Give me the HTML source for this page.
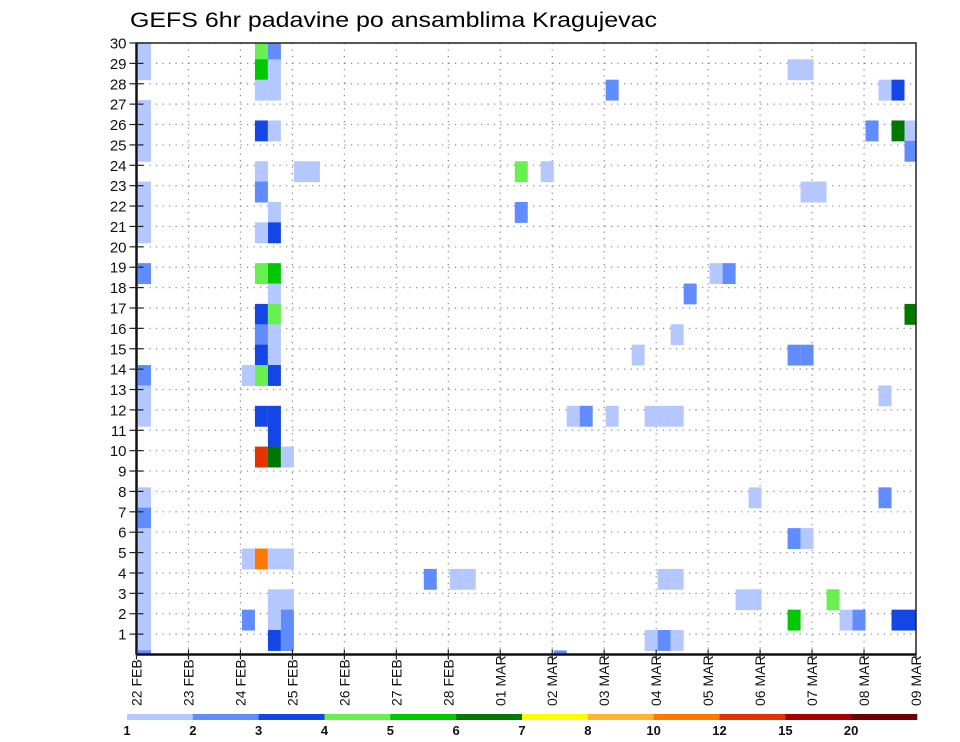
<!DOCTYPE html>
<html><head><meta charset="utf-8"><style>
html,body{margin:0;padding:0;background:#fff;}
svg{display:block;font-family:"Liberation Sans",sans-serif;}
</style></head><body>
<svg id="chart" width="960" height="742" viewBox="0 0 960 742" xmlns="http://www.w3.org/2000/svg">
<text x="130" y="27" font-size="21" fill="#000" textLength="527" lengthAdjust="spacingAndGlyphs">GEFS 6hr padavine po ansamblima Kragujevac</text>
<g id="grid"></g>
<g id="cells"></g>
<g id="axes"></g>
<g id="legend"></g>
</svg>
<script>
// data
const dayLabels = ["22","23","24","25","26","27","28","01","02","03","04","05","06","07","08","09"];
const monthLabels = ["FEB","FEB","FEB","FEB","FEB","FEB","FEB","MAR","MAR","MAR","MAR","MAR","MAR","MAR","MAR","MAR"];
const memberTicks = [1,2,3,4,5,6,7,8,9,10,11,12,13,14,15,16,17,18,19,20,21,22,23,24,25,26,27,28,29,30];
const legendLabels = ["1","2","3","4","5","6","7","8","10","12","15","20"];
const levelColors = ["#b4c8ff","#608cff","#1446e6","#68f050","#00c800","#007800","#ffff00","#ffb432","#ff7800","#e63200","#a50000","#6e0000"];
// cells: time step (6h index from 22 FEB 00), member, level(1..12)
const cellSteps = [0,0,0,0,0,0,0,0,0,0,0,0,0,0,0,0,0,0,0,0,0,0,
 9,9,9,10,10,10,9,10,9,12,13,9,10,10,9,9,10,10,9,10,9,10,9,10,8,9,10,9,10,10,9,10,11,8,9,10,11,10,11,10,11,8,10,11,
 36,29,31,29,42,41,38,33,34,36,39,40,41,22,24,25,40,41,32,39,40,41,
 50,51,57,58,56,58,59,59,51,52,44,45,59,50,51,57,47,57,50,51,46,47,53,50,54,55,58,59];
const cellMembers = [30,29,27,26,25,23,22,21,19,14,13,12,8,7,6,5,4,3,2,1,0,0,
 30,29,28,30,29,28,26,26,24,24,24,23,22,21,21,19,19,18,17,17,16,16,15,15,14,14,14,12,12,11,10,10,10,5,5,5,5,3,3,2,2,2,1,1,
 28,24,24,22,18,16,15,12,12,12,12,12,12,4,4,4,4,4,0,1,1,1,
 29,29,28,28,26,26,26,25,23,23,19,19,17,15,15,13,8,8,6,6,3,3,3,2,2,2,2,2];
const cellLevels = [1,1,1,1,1,1,1,1,2,2,1,1,1,2,1,1,1,1,1,1,2,2,
 4,5,1,2,1,1,3,1,1,1,1,2,1,3,1,4,5,1,3,4,2,1,3,1,1,4,3,3,3,3,10,6,1,1,9,1,1,1,1,1,2,2,3,2,
 2,4,1,2,2,1,1,1,2,1,1,1,1,2,1,1,1,1,2,1,2,1,
 1,1,1,3,2,6,1,2,1,1,1,2,6,2,2,1,1,2,2,1,1,1,4,5,1,2,3,3];

const NS="http://www.w3.org/2000/svg";
const X0=136.5, X1=916, Y0=654.5, Y1=43;
const nDays=15;
const xDay = d => X0 + (X1-X0)*d/nDays;
const xStep = s => xDay(s/4);
const yMem = m => Y0 - (Y0-Y1)*m/30;
function mk(tag, attrs, parent){const e=document.createElementNS(NS,tag);for(const k in attrs)e.setAttribute(k,attrs[k]);parent.appendChild(e);return e;}

const grid=document.getElementById('grid');
for(let i=0;i<memberTicks.length;i++){
  const y=yMem(memberTicks[i]);
  const l=mk('line',{x1:X0,x2:X1,y1:y,y2:y,stroke:'#888','stroke-width':1.2,'stroke-dasharray':'1.2 5.3'},grid);
  
  
}
for(let d=1;d<nDays;d++){
  const x=xDay(d);
  const l=mk('line',{x1:x,x2:x,y1:Y1,y2:Y0,stroke:'#888','stroke-width':1.2,'stroke-dasharray':'1.2 5.3'},grid);
  
  
}

const cells=document.getElementById('cells');
const stepW=(X1-X0)/(nDays*4), rowH=(Y0-Y1)/30;
for(let i=0;i<cellSteps.length;i++){
  const x=xStep(cellSteps[i])+1.5;
  let y=yMem(cellMembers[i])-rowH*0.2;
  let h=rowH+0.5;
  if(y<Y1){h-=(Y1-y);y=Y1;}
  if(y+h>Y0)h=Y0-y;
  let w=stepW;
  if(x+w>X1)w=X1-x;
  const r=mk('rect',{x:x,y:y,width:w,height:h,fill:levelColors[cellLevels[i]-1]},cells);
  
  
}

const axes=document.getElementById('axes');
const frame=mk('rect',{x:X0,y:Y1,width:X1-X0,height:Y0-Y1,fill:'none',stroke:'#222','stroke-width':1.5},axes);


const lax=mk('line',{x1:X0,x2:X0,y1:Y1,y2:Y0,stroke:'#111','stroke-width':2.5},axes);


const bax=mk('line',{x1:X0,x2:X1,y1:Y0,y2:Y0,stroke:'#111','stroke-width':2.5},axes);


for(let i=0;i<memberTicks.length;i++){
  const y=yMem(memberTicks[i]);
  const t=mk('line',{x1:X0-7,x2:X0+7,y1:y,y2:y,stroke:'#222','stroke-width':1.2},axes);
  
  
  const tx=mk('text',{x:X0-10,y:y+5.5,'font-size':15,'text-anchor':'end',fill:'#111'},axes);
  tx.textContent=memberTicks[i];
  
  
}
for(let d=0;d<dayLabels.length;d++){
  const x=xDay(d);
  const t=mk('line',{x1:x,x2:x,y1:Y0-5,y2:Y0+5,stroke:'#222','stroke-width':1.2},axes);
  
  
  const tx=mk('text',{transform:'translate('+(x+5)+',706) rotate(-90)','font-size':14,fill:'#111','xml:space':'preserve'},axes);
  tx.textContent=dayLabels[d]+'  '+monthLabels[d];
  
  
}

const legend=document.getElementById('legend');
const LX0=127, LX1=917, segW=(LX1-LX0)/levelColors.length;
for(let i=0;i<levelColors.length;i++){
  const r=mk('rect',{x:LX0+i*segW,y:714,width:segW+0.3,height:6,fill:levelColors[i]},legend);
  
  
  const tx=mk('text',{x:LX0+i*segW,y:735,'font-size':13,'font-weight':'bold','text-anchor':'middle',fill:'#111'},legend);
  tx.textContent=legendLabels[i];
  
  
}
</script>
</body></html>
